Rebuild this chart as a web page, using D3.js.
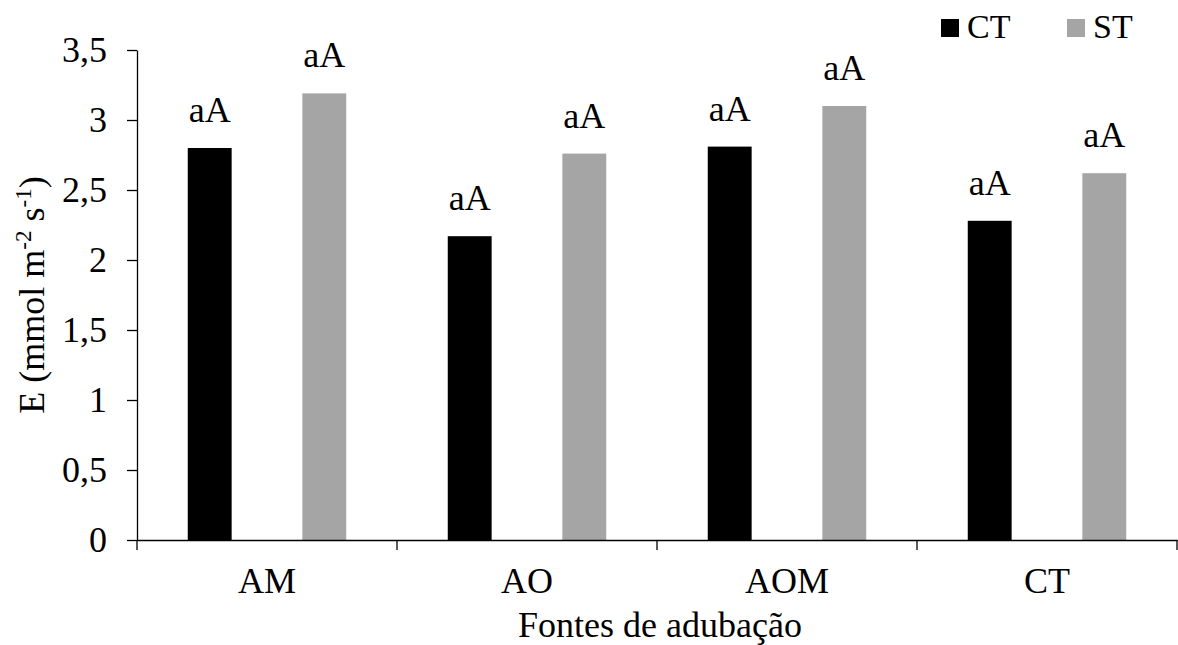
<!DOCTYPE html>
<html>
<head>
<meta charset="utf-8">
<script src="https://cdn.jsdelivr.net/npm/d3@7"></script>
<style>
  html, body { margin: 0; padding: 0; background: #fff; }
  svg { display: block; }
</style>
</head>
<body>
<svg id="chart" width="1178" height="645" font-family="Liberation Serif"></svg>
<script>
// ---- data ----
const categories = ["AM", "AO", "AOM", "CT"];
const seriesNames = ["CT", "ST"];
const ctValues = [2.80, 2.17, 2.81, 2.28];
const stValues = [3.19, 2.76, 3.10, 2.62];
const ctLabels = ["aA", "aA", "aA", "aA"];
const stLabels = ["aA", "aA", "aA", "aA"];
const yTickValues = [0, 0.5, 1, 1.5, 2, 2.5, 3, 3.5];
const seriesColors = ["#000000", "#a5a5a5"];
const xTitle = "Fontes de adubação";

(function () {
// ---- layout ----
const mLeft = 137, mRight = 1177, mTop = 50, mBottom = 540;
const FS = 36;
const FF = '"Liberation Serif", "Times New Roman", serif';

const svg = d3.select("#chart");

const x = d3.scaleBand().domain(categories).range([mLeft, mRight]).padding(0);
const xs = d3.scaleBand().domain(seriesNames).range([0, x.bandwidth()])
  .paddingInner(0.617).paddingOuter(0.443);
const y = d3.scaleLinear().domain([0, 3.5]).range([mBottom, mTop]);

const rows = categories.map((c, i) => ({
  cat: c,
  vals: [
    { s: "CT", v: ctValues[i], lab: ctLabels[i], color: seriesColors[0] },
    { s: "ST", v: stValues[i], lab: stLabels[i], color: seriesColors[1] }
  ]
}));

// bars
const g = svg.append("g");
const groups = g.selectAll("g.cat").data(rows).enter().append("g")
  .attr("transform", d => `translate(${x(d.cat)},0)`);
groups.selectAll("rect").data(d => d.vals).enter().append("rect")
  .attr("x", d => xs(d.s))
  .attr("width", xs.bandwidth())
  .attr("y", d => y(d.v))
  .attr("height", d => y(0) - y(d.v))
  .attr("fill", d => d.color);
groups.selectAll("text.lab").data(d => d.vals).enter().append("text")
  .attr("class", "lab")
  .attr("x", d => xs(d.s) + xs.bandwidth() / 2)
  .attr("y", d => y(d.v) - 26)
  .attr("text-anchor", "middle")
  .style("font-family", FF).style("font-size", FS + "px").attr("fill", "#000")
  .text(d => d.lab);

// y axis
const yAxis = d3.axisLeft(y).tickValues(yTickValues)
  .tickFormat(d => String(d).replace(".", ","))
  .tickSize(10).tickSizeOuter(0).tickPadding(20);
const gy = svg.append("g").attr("transform", `translate(${mLeft},0)`).call(yAxis);
gy.attr("font-family", FF);
gy.selectAll("text").style("font-size", FS + "px").style("font-family", FF).attr("fill", "#000");
gy.selectAll("line, path").attr("stroke", "#000").attr("stroke-width", 1.3);

// x axis
const xAxis = d3.axisBottom(x).tickSize(0).tickSizeOuter(0);
const gx = svg.append("g").attr("transform", `translate(0,${mBottom})`).call(xAxis);
gx.attr("font-family", FF);
gx.selectAll("text").style("font-size", FS + "px").style("font-family", FF)
  .attr("fill", "#000").attr("y", 53).attr("dy", 0);
gx.select("path.domain").attr("stroke", "#000").attr("stroke-width", 1.3);
const boundaries = categories.map(c => x(c)).concat([x(categories[categories.length - 1]) + x.bandwidth()]);
gx.selectAll("line.bt").data(boundaries).enter().append("line")
  .attr("class", "bt")
  .attr("x1", d => d).attr("x2", d => d)
  .attr("y1", 0).attr("y2", 10)
  .attr("stroke", "#000").attr("stroke-width", 1.3);

// axis titles
svg.append("text")
  .attr("x", (mLeft + mRight) / 2 + 3).attr("y", 637)
  .attr("text-anchor", "middle")
  .style("font-family", FF).style("font-size", FS + "px").attr("fill", "#000")
  .text(xTitle);

const yt = svg.append("text")
  .attr("transform", `translate(44,${(mTop + mBottom) / 2}) rotate(-90)`)
  .attr("text-anchor", "middle")
  .style("font-family", FF).style("font-size", FS + "px").attr("fill", "#000");
yt.append("tspan").text("E (mmol m");
yt.append("tspan").attr("dy", -13).style("font-size", "23px").text("-2");
yt.append("tspan").attr("dy", 13).text(" s");
yt.append("tspan").attr("dy", -13).style("font-size", "23px").text("-1");
yt.append("tspan").attr("dy", 13).text(")");

// legend
const legend = svg.append("g");
const legX = [941, 1067];
seriesNames.forEach((s, i) => {
  legend.append("rect").attr("x", legX[i]).attr("y", 19).attr("width", 18).attr("height", 18)
    .attr("fill", seriesColors[i]);
  legend.append("text").attr("x", legX[i] + 26).attr("y", 38)
    .style("font-family", FF).style("font-size", "34px").attr("fill", "#000").text(s);
});
})();
</script>
</body>
</html>
